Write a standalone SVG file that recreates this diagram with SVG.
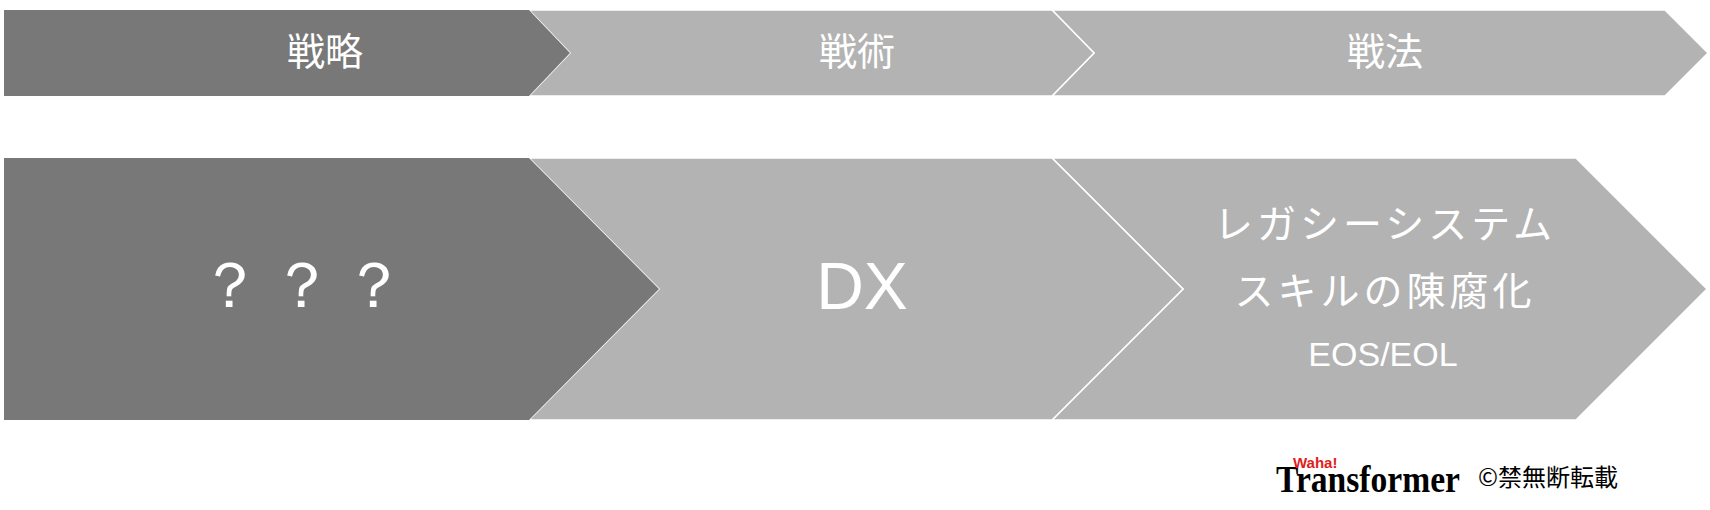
<svg xmlns="http://www.w3.org/2000/svg" width="1710" height="510" viewBox="0 0 1710 510">
<style>
.d{fill:#787878}.l{fill:#b3b3b3;stroke:#fff;stroke-width:1.5}
.t{fill:#fff;font-family:"Noto Sans CJK JP","Liberation Sans",sans-serif;text-anchor:middle;dominant-baseline:central}
.a{font-family:"Liberation Sans",Arial,sans-serif}
</style>
<rect width="1710" height="510" fill="#fff"/>
<g id="n1"><polygon class="l" points="1052,10 1665,10 1708,53 1665,96 1052,96 1094,53"/><text class="t" x="1385" y="48" font-size="38">戦法</text></g>
<g id="n2"><polygon class="l" points="529,10 1052,10 1094,53 1052,96 529,96 570,53"/><text class="t" x="857" y="48" font-size="38">戦術</text></g>
<g id="n0"><polygon class="d" points="4,10 529,10 570,53 529,96 4,96"/><text class="t" x="325" y="48" font-size="38">戦略</text></g>
<g id="b3"><polygon class="l" points="1052,158 1576,158 1707,289 1576,420 1052,420 1183,289"/>
<text class="t" x="1385" y="221" font-size="39" letter-spacing="4">レガシーシステム</text>
<text class="t" x="1385" y="288" font-size="39" letter-spacing="4">スキルの陳腐化</text>
<text class="t a" x="1383" y="354" font-size="34" style="font-family:'Liberation Sans',Arial,sans-serif">EOS/EOL</text></g>
<g id="b2"><polygon class="l" points="529,158 1052,158 1183,289 1052,420 529,420 659,289"/><text class="t" x="862" y="286" font-size="66" style="font-family:'Liberation Sans',Arial,sans-serif">DX</text></g>
<g id="b1"><polygon class="d" points="4,158 529,158 659,289 529,420 4,420"/><text class="t" x="306" y="285" font-size="64" letter-spacing="8" style="font-family:'Liberation Sans',Arial,sans-serif">？？？</text></g>
<g id="connectors"/>
<g id="footer">
<text x="1276" y="492" font-family="Liberation Serif,serif" font-weight="bold" font-size="38" textLength="184" lengthAdjust="spacingAndGlyphs" fill="#000">Transformer</text>
<text x="1293" y="468" font-family="Liberation Sans,sans-serif" font-weight="bold" font-size="15" fill="#e02020">Waha!</text>
<text x="1478" y="486" font-family="Noto Sans CJK JP,sans-serif" font-size="24" fill="#000">©禁無断転載</text>
</g>
</svg>
